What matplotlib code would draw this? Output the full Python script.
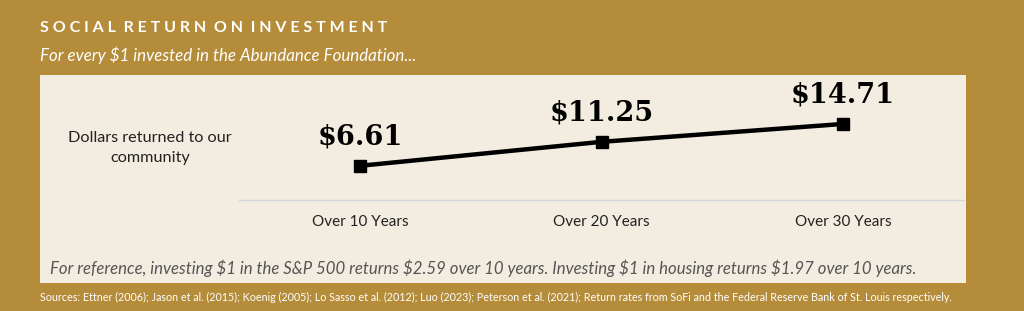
import matplotlib
matplotlib.use("Agg")
import matplotlib.pyplot as plt
from matplotlib.patches import Rectangle

plt.rcParams["text.parse_math"] = False

categories = ["Over 10 Years", "Over 20 Years", "Over 30 Years"]
values = [6.61, 11.25, 14.71]
value_labels = ["$6.61", "$11.25", "$14.71"]

title = "SOCIAL RETURN ON INVESTMENT"
subtitle = "For every $1 invested in the Abundance Foundation..."
series_name = "Dollars returned to our\ncommunity"
reference = ("For reference, investing $1 in the S&P 500 returns $2.59 over 10 years. "
             "Investing $1 in housing returns $1.97 over 10 years.")
sources = ("Sources: Ettner (2006); Jason et al. (2015); Koenig (2005); Lo Sasso et al. (2012); "
           "Luo (2023); Peterson et al. (2021); Return rates from SoFi and the Federal Reserve Bank of St. Louis respectively.")

GOLD = "#B48C3A"
CREAM = "#F2EDE0"
W, H = 1024, 311

def fx(x):
    return x / W

def fy(y):
    return 1 - y / H

fig = plt.figure(figsize=(W / 100, H / 100), dpi=100)
fig.patch.set_facecolor(GOLD)

fig.patches.append(Rectangle((fx(40), fy(283)), fx(966) - fx(40), fy(75) - fy(283),
                             transform=fig.transFigure, facecolor=CREAM, edgecolor="none", zorder=-5))

spaced_title = "  ".join(" ".join(w) for w in title.split(" "))
fig.text(fx(40), fy(28), spaced_title, color="white", fontsize=11.5, fontweight="bold",
         family="Lato", va="center", ha="left")
fig.text(fx(40), fy(55), subtitle, color="white", fontsize=12.2, style="italic",
         family="Lato", va="center", ha="left")

fig.text(fx(150), fy(148), series_name, color="#222222", fontsize=11.7, family="Lato",
         va="center", ha="center", linespacing=1.5)

ax = fig.add_axes([fx(239), fy(200), fx(964) - fx(239), fy(100) - fy(200)])
ax.set_zorder(2)
ax.set_facecolor("none")
x = list(range(len(categories)))
ax.plot(x, values, color="black", lw=3.2, marker="s", markersize=8, zorder=3, clip_on=False)
ax.set_xlim(-0.5, 2.5)
ax.set_ylim(0, 19.34)
for i, (v, lab) in enumerate(zip(values, value_labels)):
    ax.annotate(lab, (i, v), xytext=(0, 21), textcoords="offset points", ha="center", va="center",
                fontsize=19.5, fontweight="bold", family="DejaVu Serif", color="black")
ax.set_xticks(x)
ax.set_xticklabels(categories, fontsize=11, family="Lato", color="#222222")
ax.tick_params(axis="x", length=0, pad=11)
ax.set_yticks([])
for s in ["top", "left", "right"]:
    ax.spines[s].set_visible(False)
ax.spines["bottom"].set_color("#D3D6DB")
ax.spines["bottom"].set_linewidth(1)

fig.text(fx(50), fy(268), reference, color="#555555", fontsize=12.1, style="italic",
         family="Lato", va="center", ha="left")
fig.text(fx(40), fy(297), sources, color="white", fontsize=7.75, family="Lato",
         va="center", ha="left")

fig.savefig("out.png", dpi=100, facecolor=GOLD)
